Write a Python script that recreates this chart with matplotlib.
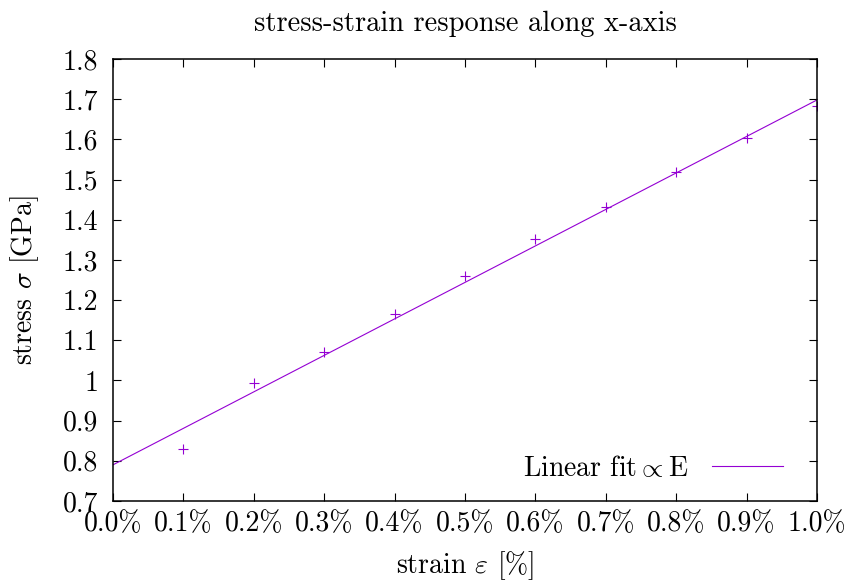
import numpy as np
from matplotlib import pyplot as plt
from matplotlib.ticker import FuncFormatter, MultipleLocator

# measured points: strain in %, stress in GPa
strain = [0.1, 0.2, 0.3, 0.4, 0.5, 0.6, 0.7, 0.8, 0.9, 1.0]
stress = [0.829, 0.994, 1.071, 1.165, 1.260, 1.352, 1.432, 1.519, 1.603, 1.683]

# linear fit sigma = s0 + E * eps
fit_s0 = 0.79
fit_E = 0.908

plt.rcParams['font.family'] = 'serif'
plt.rcParams['font.serif'] = ['cmr10']
plt.rcParams['mathtext.fontset'] = 'cm'
plt.rcParams['axes.unicode_minus'] = False

farbe = '#9400d3'

fig = plt.figure(figsize=(8.49, 5.81), dpi=100)
ax = fig.add_axes([0.1331, 0.1377, 0.8292, 0.7608])

plt.plot(strain, stress, marker='+', color=farbe, linestyle='None',
         markersize=6.5, markeredgewidth=0.8)

xfit = np.array([0.0, 1.0])
plt.plot(xfit, fit_s0 + fit_E * xfit, color=farbe, linewidth=0.8,
         label=r'Linear fit$\propto$E')

ax.set_xlim(0, 1.0)
ax.set_ylim(0.7, 1.8)
ax.xaxis.set_major_locator(MultipleLocator(0.1))
ax.yaxis.set_major_locator(MultipleLocator(0.1))
ax.xaxis.set_major_formatter(FuncFormatter(lambda v, p: '%.1f%%' % v))
ax.yaxis.set_major_formatter(FuncFormatter(lambda v, p: '%g' % round(v, 2)))
ax.tick_params(direction='in', top=True, right=True, length=5.5, width=0.8,
               labelsize=20)
ax.tick_params(axis='x', pad=7)
ax.tick_params(axis='y', pad=10.5)
for s in ax.spines.values():
    s.set_linewidth(1.1)

plt.legend(loc='lower right', frameon=False, markerfirst=False, fontsize=20,
           handlelength=2.55, handletextpad=0.85, borderaxespad=0.3,
           bbox_to_anchor=(0.979, 0.0))
plt.xlabel(r'strain $\varepsilon$ [%]', fontsize=20, labelpad=9)
plt.ylabel(r'stress $\sigma$ [GPa]', fontsize=20, labelpad=16)
plt.title('stress-strain response along x-axis', fontsize=20.5, pad=20)
plt.savefig('out.png')
